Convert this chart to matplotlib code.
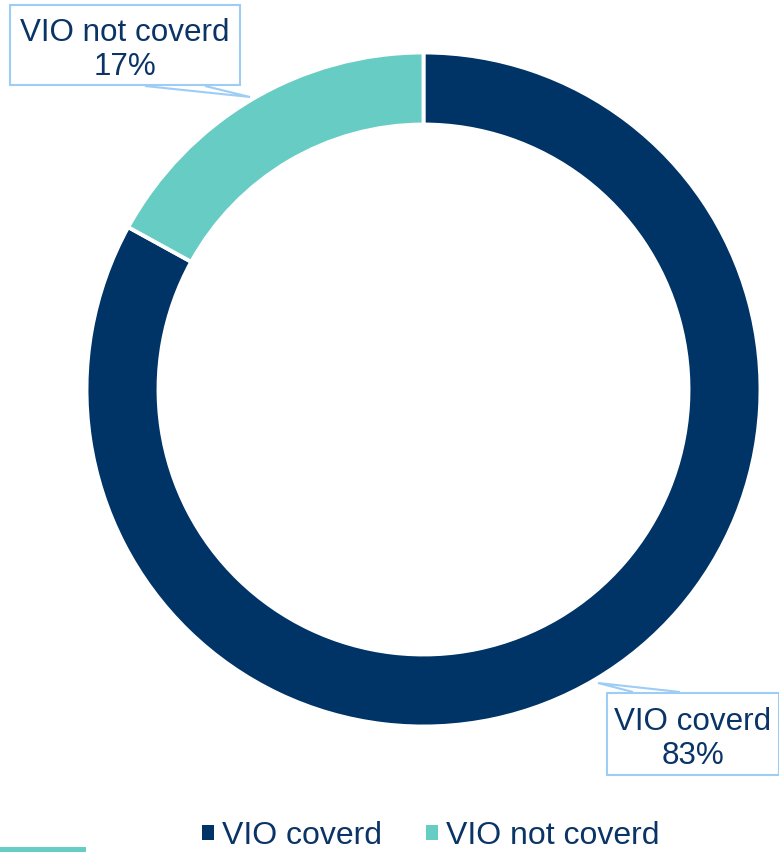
import matplotlib.pyplot as plt
from matplotlib.patches import Rectangle, Polygon

categories = ["VIO coverd", "VIO not coverd"]
shares = [83, 17]
colors = ["#003366", "#66CCC4"]
text_color = "#0B3466"
box_color = "#9DCDF5"

plt.rcParams["font.family"] = ["Liberation Sans", "DejaVu Sans"]

W, H = 779, 852
fig = plt.figure(figsize=(W / 100, H / 100), dpi=100)
ax = fig.add_axes([0, 0, 1, 1])

cx, cy, r_out, ring = 423.5, H - 389.5, 337, 72
ax.pie(shares, colors=colors, startangle=90, counterclock=False,
       center=(cx, cy), radius=r_out, frame=True,
       wedgeprops=dict(width=ring, edgecolor="white", linewidth=2.8))
ax.set_xlim(0, W)
ax.set_ylim(0, H)
ax.set_aspect("equal")
ax.axis("off")


def callout(x0, y0, x1, y1, base_a, base_b, tip, text):
    # label box with a wedge-shaped pointer toward the ring
    ax.add_patch(Rectangle((x0, y0), x1 - x0, y1 - y0, facecolor="white",
                           edgecolor=box_color, linewidth=1.5, zorder=5))
    ax.add_patch(Polygon([base_a, tip, base_b], closed=False, fill=False,
                         edgecolor=box_color, linewidth=1.5, zorder=5))
    ax.text((x0 + x1) / 2, (y0 + y1) / 2 - 5, text, ha="center", va="center",
            fontsize=22.6, color=text_color, linespacing=1.18, zorder=6)


callout(10, H - 85, 240, H - 5, (145, H - 86), (205, H - 86), (250, H - 97),
        f"{categories[1]}\n{shares[1]}%")
callout(607, H - 775, 779, H - 693, (633, H - 692), (680, H - 692), (598, H - 683),
        f"{categories[0]}\n{shares[0]}%")

# legend along the bottom
handles = [Rectangle((0, 0), 1, 1, facecolor=c) for c in colors]
ax.legend(handles, categories, loc="center", bbox_to_anchor=(431 / W, 1 - 836 / H),
          ncol=2, frameon=False, handlelength=0.375, handleheight=0.375,
          handletextpad=0.25, columnspacing=1.375, borderpad=0, borderaxespad=0,
          prop=dict(size=23), labelcolor=text_color)

# accent strip at the lower left corner
ax.add_patch(Rectangle((0, 0), 86, 5, facecolor=colors[1], edgecolor="none"))

fig.savefig("out.png", dpi=100)
